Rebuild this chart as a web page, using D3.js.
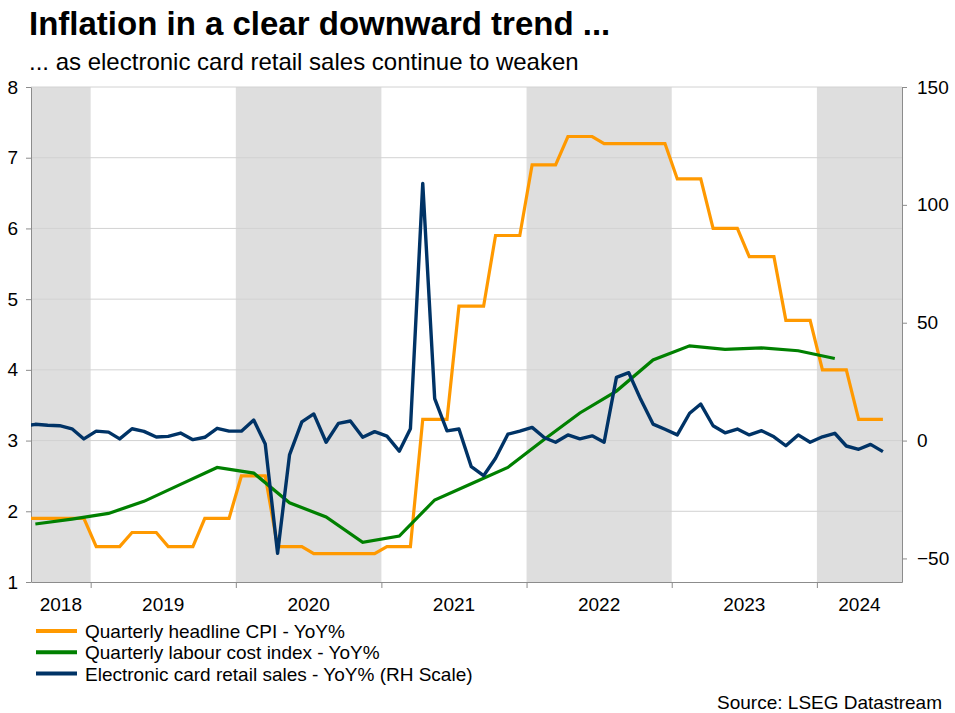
<!DOCTYPE html>
<html>
<head>
<meta charset="utf-8">
<script src="https://cdn.jsdelivr.net/npm/d3@7"></script>
<style>
  body { margin: 0; background: #fff; }
  svg { display: block; font-family: "Liberation Sans", Arial, sans-serif; }
</style>
</head>
<body>
<svg id="chart" width="955" height="713"></svg>
<script>
/// Data

// electronic card retail sales, YoY% (RH scale), monthly from Jul 2018
var cardStart = "2018-07";
var cardValues = [
  6.0, 6.9, 6.5, 6.3, 5.0, 0.7,                                   // 2018 Jul-Dec
  4.0, 3.6, 0.7, 5.0, 3.9, 1.5, 1.8, 3.2, 0.4, 1.4, 5.2, 4.0,     // 2019
  4.0, 8.7, -1.5, -47.8, -6.1, 7.9, 11.3, -0.7, 7.3, 8.3, 1.4, 3.8, // 2020
  1.9, -4.5, 5.0, 109.1, 17.8, 4.1, 4.9, -11.1, -14.9, -7.5, 2.7, 4.0, // 2021
  5.6, 1.2, -0.7, 2.4, 0.7, 2.0, -0.7, 26.8, 28.8, 17.5, 7.0, 4.8, // 2022
  2.4, 11.6, 15.5, 6.3, 3.3, 4.9, 2.4, 4.2, 1.6, -2.2, 2.4, -0.7,  // 2023
  1.6, 3.1, -2.3, -3.7, -1.6, -4.7                                 // 2024 Jan-Jun
];

// quarterly headline CPI, YoY%
var cpiQuarters = ["2018Q3","2018Q4","2019Q1","2019Q2","2019Q3","2019Q4",
  "2020Q1","2020Q2","2020Q3","2020Q4","2021Q1","2021Q2","2021Q3","2021Q4",
  "2022Q1","2022Q2","2022Q3","2022Q4","2023Q1","2023Q2","2023Q3","2023Q4",
  "2024Q1","2024Q2"];
var cpiValues = [1.9, 1.9, 1.5, 1.7, 1.5, 1.9,
  2.5, 1.5, 1.4, 1.4, 1.5, 3.3, 4.9, 5.9,
  6.9, 7.3, 7.2, 7.2, 6.7, 6.0, 5.6, 4.7,
  4.0, 3.3];

// quarterly labour cost index, YoY%
var lciMonths = ["2018-08","2018-11","2019-02","2019-05","2019-08","2019-11",
  "2020-02","2020-05","2020-08","2020-11","2021-02","2021-05","2021-08","2021-11",
  "2022-02","2022-05","2022-08","2022-11","2023-02","2023-05","2023-08","2023-11",
  "2024-02"];
var lciValues = [1.82, 1.89, 1.97, 2.14, 2.38, 2.62,
  2.54, 2.12, 1.92, 1.56, 1.65, 2.16, 2.39, 2.62,
  3.02, 3.39, 3.70, 4.14, 4.34, 4.29, 4.31, 4.27,
  4.16];

var years = [2018, 2019, 2020, 2021, 2022, 2023, 2024];
var shadedYears = [2018, 2020, 2022, 2024];
var leftTicks = [1, 2, 3, 4, 5, 6, 7, 8];
var rightTicks = [-50, 0, 50, 100, 150];

var seriesNames = ["Quarterly headline CPI - YoY%",
  "Quarterly labour cost index - YoY%",
  "Electronic card retail sales - YoY% (RH Scale)"];
var seriesColors = ["#ff9900", "#008000", "#003366"];

/// Layout
var plot = {left: 31, right: 902, top: 87, bottom: 582};
var svg = d3.select("#chart");
var parseMonth = d3.timeParse("%Y-%m");
var mid = d => new Date(d.getFullYear(), d.getMonth(), 15);

var x = d3.scaleTime()
    .domain([new Date(2018, 7, 4), new Date(2024, 7, 2)])
    .range([plot.left, plot.right]);
var yL = d3.scaleLinear().domain([1, 8]).range([plot.bottom, plot.top]);
var yR = d3.scaleLinear().domain([-60, 150]).range([plot.bottom, plot.top]);

/// Build point tables
var cardData = cardValues.map((v, i) =>
    ({date: mid(d3.timeMonth.offset(parseMonth(cardStart), i)), value: v}));

var cpiData = [];
cpiQuarters.forEach(function(q, i) {
  var yr = +q.slice(0, 4), m0 = (+q.slice(5) - 1) * 3;
  for (var k = 0; k < 3; k++)
    cpiData.push({date: new Date(yr, m0 + k, 15), value: cpiValues[i]});
});

var lciData = lciMonths.map((m, i) => ({date: mid(parseMonth(m)), value: lciValues[i]}));

/// Shaded year bands
var clampDate = d => d < x.domain()[0] ? x.domain()[0] : (d > x.domain()[1] ? x.domain()[1] : d);
svg.append("g").selectAll("rect")
  .data(shadedYears)
  .enter().append("rect")
    .attr("x", d => x(clampDate(new Date(d, 0, 1))))
    .attr("y", plot.top)
    .attr("width", d => x(clampDate(new Date(d + 1, 0, 1))) - x(clampDate(new Date(d, 0, 1))))
    .attr("height", plot.bottom - plot.top)
    .attr("fill", "#dedede");

/// Gridlines (left scale)
svg.append("g").selectAll("line")
  .data(leftTicks.slice(1))
  .enter().append("line")
    .attr("x1", plot.left).attr("x2", plot.right)
    .attr("y1", d => yL(d)).attr("y2", d => yL(d))
    .attr("stroke", "#d2d2d2").attr("stroke-width", 1);

/// Axes
var axisColor = "#8c8c8c";
var gL = svg.append("g")
    .attr("transform", "translate(" + plot.left + ",0)")
    .call(d3.axisLeft(yL).tickValues(leftTicks).tickFormat(d3.format("d"))
      .tickSize(5).tickSizeOuter(0).tickPadding(8));
var gR = svg.append("g")
    .attr("transform", "translate(" + plot.right + ",0)")
    .call(d3.axisRight(yR).tickValues(rightTicks).tickFormat(d3.format("d"))
      .tickSize(5).tickSizeOuter(0).tickPadding(10));
var gB = svg.append("g")
    .attr("transform", "translate(0," + plot.bottom + ")")
    .call(d3.axisBottom(x).tickValues(years.slice(1).map(y => new Date(y, 0, 1)))
      .tickSize(6).tickSizeOuter(0).tickFormat(""));

[gL, gR, gB].forEach(function(g) {
  g.selectAll("path, line").attr("stroke", axisColor);
  g.selectAll("text").attr("fill", "#000").attr("font-size", "19px")
    .attr("font-family", "Liberation Sans, Arial, sans-serif");
});

/// Year labels centred in each visible year
svg.append("g").selectAll("text")
  .data(years)
  .enter().append("text")
    .attr("x", d => (x(clampDate(new Date(d, 0, 1))) + x(clampDate(new Date(d + 1, 0, 1)))) / 2)
    .attr("y", 611)
    .attr("text-anchor", "middle")
    .attr("font-size", "19px")
    .text(d => d);

/// Lines
svg.append("clipPath").attr("id", "clip")
  .append("rect")
    .attr("x", plot.left).attr("y", plot.top)
    .attr("width", plot.right - plot.left).attr("height", plot.bottom - plot.top);

var lineL = d3.line().x(d => x(d.date)).y(d => yL(d.value));
var lineR = d3.line().x(d => x(d.date)).y(d => yR(d.value));
var lines = svg.append("g").attr("clip-path", "url(#clip)");

lines.append("path").datum(cpiData)
  .attr("d", lineL).attr("fill", "none")
  .attr("stroke", seriesColors[0]).attr("stroke-width", 3.2);
lines.append("path").datum(lciData)
  .attr("d", lineL).attr("fill", "none")
  .attr("stroke", seriesColors[1]).attr("stroke-width", 3.2);
lines.append("path").datum(cardData)
  .attr("d", lineR).attr("fill", "none")
  .attr("stroke", seriesColors[2]).attr("stroke-width", 3.4)
  .attr("stroke-linejoin", "round");

/// Titles
svg.append("text").attr("x", 29).attr("y", 35)
  .attr("font-size", "33px").attr("font-weight", "bold")
  .text("Inflation in a clear downward trend ...");
svg.append("text").attr("x", 29).attr("y", 70)
  .attr("font-size", "24px")
  .text("... as electronic card retail sales continue to weaken");

/// Legend
var leg = svg.append("g").selectAll("g")
  .data(seriesNames)
  .enter().append("g")
    .attr("transform", (d, i) => "translate(0," + (631 + i * 21.3) + ")");
leg.append("line")
  .attr("x1", 36).attr("x2", 77)
  .attr("stroke", (d, i) => seriesColors[i]).attr("stroke-width", 4);
leg.append("text")
  .attr("x", 85).attr("y", 7)
  .attr("font-size", "19px")
  .text(d => d);

/// Source
svg.append("text").attr("x", 942).attr("y", 709)
  .attr("text-anchor", "end").attr("font-size", "19px")
  .text("Source: LSEG Datastream");
</script>
</body>
</html>
